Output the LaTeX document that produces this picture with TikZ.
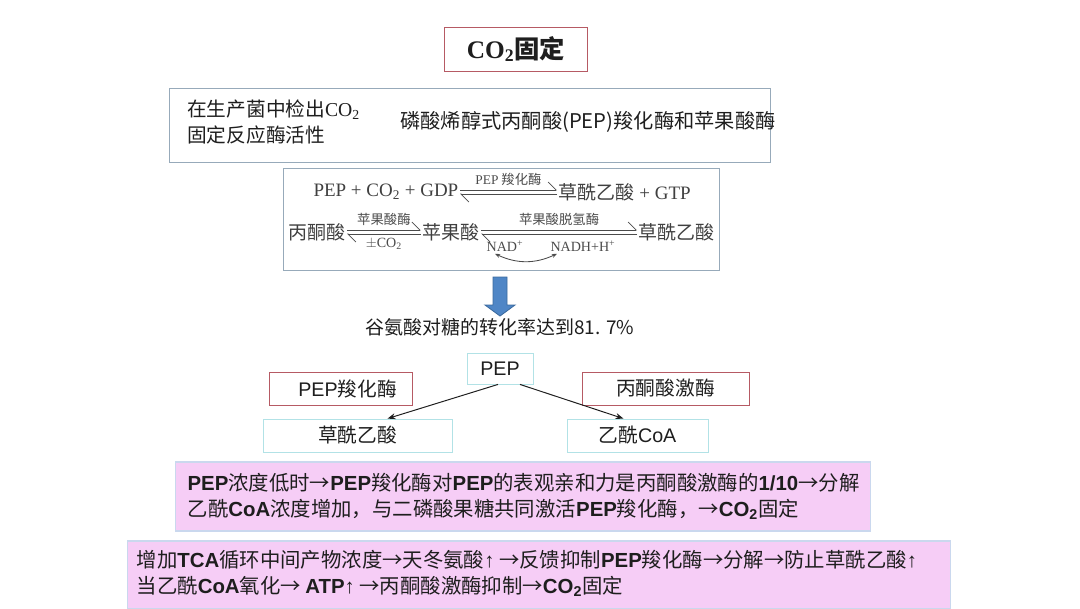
\documentclass[tikz,border=0pt]{standalone}
\usepackage{fontspec}
\setmainfont{Liberation Serif}
\setsansfont{Liberation Sans}
\newfontfamily\cjk{Noto Sans CJK SC}
\usetikzlibrary{arrows.meta,positioning}
\definecolor{COBoxRed}{HTML}{B65A64}
\definecolor{COCyan}{HTML}{B2E2E6}
\definecolor{COSlate}{HTML}{97AABA}
\definecolor{COBlue}{HTML}{4F86C6}
\definecolor{COBlueDark}{HTML}{3B6A9E}
\definecolor{COPink}{HTML}{F6CDF6}
\definecolor{COPinkEdge}{HTML}{CAD8EE}
\definecolor{COInk}{HTML}{1E1E1E}
\newcommand{\lb}[1]{{\sffamily\bfseries #1}}
\newcommand{\zh}[1]{{\cjk #1}}
\newcommand{\up}{{\sffamily ↑}}
\tikzset{
  >={Stealth[length=2mm]},
  cobox/.style={draw, line width=0.6pt, minimum height=0.825cm, inner sep=0pt,
    text=COInk},
  redbox/.style={cobox, draw=COBoxRed},
  cyanbox/.style={cobox, draw=COCyan},
  slatebox/.style={draw=COSlate, line width=0.7pt, inner sep=0pt},
  pinkbox/.style={draw=COPinkEdge, fill=COPink, line width=0.8pt, inner sep=0pt},
  eqtext/.style={inner sep=1pt, text=COInk!85, font=\fontsize{13.5}{16}\selectfont},
  eqzh/.style={eqtext, font=\cjk\fontsize{13.5}{16}\selectfont},
  eqlabel/.style={inner sep=1.5pt, text=COInk!80, font=\cjk\fontsize{9.5}{10}\selectfont},
  fwd/.style={-{Straight Barb[left,length=2mm]}, line width=0.5pt, draw=COInk!80},
  pathway/.style={->, line width=0.7pt, draw=COInk},
  body/.style={inner sep=0pt, text=COInk, font=\cjk\fontsize{14.5}{18.5}\selectfont}
}
\begin{document}
\begin{tikzpicture}[x=0.025cm, y=-0.025cm]
  \useasboundingbox (0,0) rectangle (1080,608);

  \node[redbox, minimum width=3.575cm, minimum height=1.1cm,
    font=\fontsize{18}{20}\selectfont\bfseries] (title) at (516,49)
    {CO\textsubscript{2}\zh{固定}};

  % enzyme activity found in the producing strain
  \node[slatebox, minimum width=15cm, minimum height=1.85cm] (detect) at (470,125) {};
  \node[anchor=west, align=left, inner sep=0pt, text=COInk,
    font=\cjk\fontsize{14}{18.5}\selectfont] (detectL) at (187,122)
    {在生产菌中检出{\rmfamily CO\textsubscript{2}}\\固定反应酶活性};
  \node[anchor=west, inner sep=0pt, text=COInk,
    font=\cjk\fontsize{14.4}{16}\selectfont] (enzymes) at (400,122)
    {磷酸烯醇式丙酮酸(PEP)羧化酶和苹果酸酶};

  % reactions
  \node[slatebox, minimum width=10.875cm, minimum height=2.55cm] (eqbox) at (501.5,219) {};
  \node[eqtext, anchor=east] (pepside) at (460,192) {PEP + CO\textsubscript{2} + GDP};
  \node[eqtext, anchor=west] (oaaside) at (557,192) {\zh{草酰乙酸}\ + GTP};
  \draw[fwd] ([yshift=0.5mm]pepside.east) -- ([yshift=0.5mm]oaaside.west)
    node[midway, above=0.4mm, eqlabel] {{\rmfamily PEP} 羧化酶};
  \draw[fwd] ([yshift=-0.5mm]oaaside.west) -- ([yshift=-0.5mm]pepside.east);

  \node[eqzh, anchor=east] (pyruvate) at (347,232) {丙酮酸};
  \node[eqzh] (malate) at (451,232) {苹果酸};
  \node[eqzh, anchor=west] (oaa2) at (637,232) {草酰乙酸};
  \draw[fwd] ([yshift=0.5mm]pyruvate.east) -- ([yshift=0.5mm]malate.west)
    node[midway, above=0.4mm, eqlabel] {苹果酸酶};
  \draw[fwd] ([yshift=-0.5mm]malate.west) -- ([yshift=-0.5mm]pyruvate.east)
    node[midway, below=0.4mm, eqlabel, font=\fontsize{10}{11}\selectfont] {$\pm$CO\textsubscript{2}};
  \draw[fwd] ([yshift=0.5mm]malate.east) -- ([yshift=0.5mm]oaa2.west)
    node[midway, above=0.4mm, eqlabel] {苹果酸脱氢酶};
  \draw[fwd] ([yshift=-0.5mm]oaa2.west) -- ([yshift=-0.5mm]malate.east);
  \node[eqlabel, font=\fontsize{10}{11}\selectfont] (nad) at (505,246) {NAD\textsuperscript{+}};
  \node[eqlabel, font=\fontsize{10}{11}\selectfont] (nadh) at (583,246) {NADH+H\textsuperscript{+}};
  \draw[<->, >={Stealth[length=1.3mm]}, line width=0.6pt, draw=COInk!80]
    ([xshift=-0.25cm]nad.south) to[bend right=25] ([xshift=-0.65cm]nadh.south);

  % block arrow
  \filldraw[fill=COBlue, draw=COBlueDark, line width=0.6pt]
    (493,277) -- (507,277) -- (507,305) -- (515,305) -- (500,316)
    -- (485,305) -- (493,305) -- cycle;
  \node[inner sep=0pt, text=COInk, font=\cjk\fontsize{13.5}{16}\selectfont] (yield)
    at (500,327) {谷氨酸对糖的转化率达到81. 7\%};

  % PEP branch point
  \node[cyanbox, minimum width=1.65cm, minimum height=0.775cm,
    font=\sffamily\fontsize{14}{16}\selectfont] (pep) at (500,368.5) {PEP};
  \node[redbox, minimum width=3.575cm, font=\cjk\fontsize{14}{16}\selectfont]
    (pepc) at (340.5,388.5) {\hspace{0.35cm}{\sffamily PEP}羧化酶};
  \node[redbox, minimum width=4.175cm, font=\cjk\fontsize{14}{16}\selectfont]
    (pk) at (665.5,388.5) {丙酮酸激酶};
  \node[cyanbox, minimum width=4.725cm, font=\cjk\fontsize{14}{16}\selectfont]
    (oaa) at (357.5,435.5) {草酰乙酸};
  \node[cyanbox, minimum width=3.525cm, font=\cjk\fontsize{14}{16}\selectfont]
    (acoa) at (637.5,435.5) {乙酰{\sffamily CoA}};
  \draw[pathway] ([xshift=-0.05cm]pep.south) -- ([xshift=0.75cm]oaa.north);
  \draw[pathway] ([xshift=0.5cm]pep.south) -- ([xshift=-0.35cm]acoa.north);

  % regulation notes
  \node[pinkbox, minimum width=17.35cm, minimum height=1.725cm] (lowpep) at (523,496.5) {};
  \node[body, anchor=west, align=left] (lowpeptext) at ([xshift=0.3cm]lowpep.west)
    {\lb{PEP}浓度低时→\lb{PEP}羧化酶对\lb{PEP}的表观亲和力是丙酮酸激酶的\lb{1/10}→分解\\
     乙酰\lb{CoA}浓度增加，与二磷酸果糖共同激活\lb{PEP}羧化酶，→\lb{CO\textsubscript{2}}固定};
  \node[pinkbox, minimum width=20.55cm, minimum height=1.7cm] (tca) at (539,575) {};
  \node[body, anchor=west, align=left] (tcatext) at ([xshift=0.225cm, yshift=0.04cm]tca.west)
    {增加\lb{TCA}循环中间产物浓度→天冬氨酸\up\ →反馈抑制\lb{PEP}羧化酶→分解→防止草酰乙酸\up\\
     当乙酰\lb{CoA}氧化→ \lb{ATP}\up\ →丙酮酸激酶抑制→\lb{CO\textsubscript{2}}固定};
\end{tikzpicture}
\end{document}
